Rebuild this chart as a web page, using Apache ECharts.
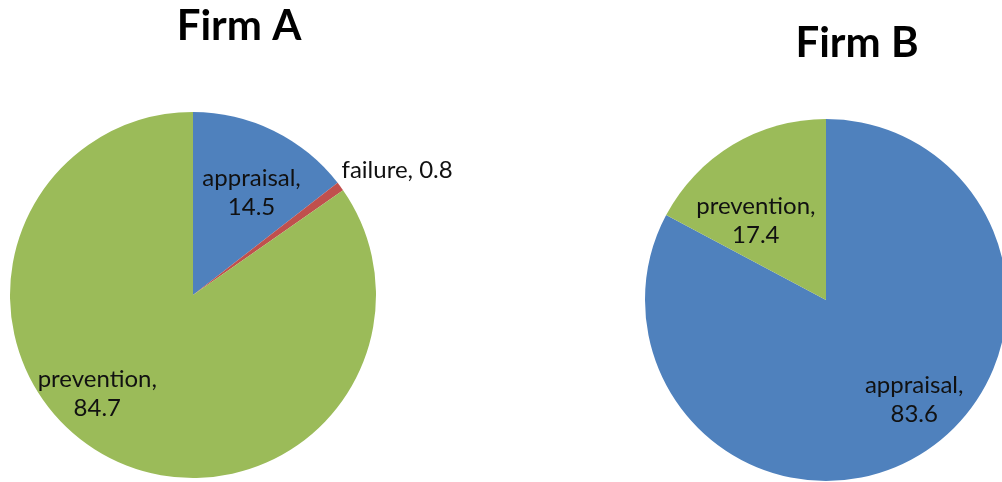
<!DOCTYPE html>
<html>
<head>
<meta charset="utf-8">
<script src="https://cdn.jsdelivr.net/npm/echarts@6/dist/echarts.min.js"></script>
<style>
  html, body { margin: 0; padding: 0; background: #fff; }
  #chart { width: 1002px; height: 482px; }
</style>
</head>
<body>
<div id="chart"></div>
<script>
// Cost of quality breakdown for two firms
const firmANames = ['appraisal', 'failure', 'prevention'];
const firmAValues = [14.5, 0.8, 84.7];
const firmBNames = ['appraisal', 'prevention'];
const firmBValues = [83.6, 17.4];

const colorMap = {
    appraisal: '#4F81BD',
    failure: '#C0504D',
    prevention: '#9BBB59'
};

// label nudges so they sit where Excel put them
const labelShiftA = [[17, -17], [128, -69], [-52, 15]];
const labelShiftB = [[40, 20], [-22, 1]];

const fontFamily = 'Lato, "Open Sans", sans-serif';

function buildData(names, values) {
    return names.map((name, i) => ({
        name: name,
        value: values[i],
        itemStyle: { color: colorMap[name] }
    }));
}

function labelText(params) {
    if (params.name === 'failure') {
        return params.name + ', ' + params.value;
    }
    return params.name + ',\n' + params.value;
}

function makePie(name, center, radius, data, shifts) {
    return {
        type: 'pie',
        name: name,
        center: center,
        radius: radius,
        data: data,
        startAngle: 90,
        clockwise: true,
        silent: true,
        avoidLabelOverlap: false,
        itemStyle: { borderWidth: 0 },
        label: {
            show: true,
            position: 'inside',
            formatter: labelText,
            color: '#111',
            fontFamily: fontFamily,
            fontSize: 24,
            lineHeight: 29,
            overflow: 'none'
        },
        labelLine: { show: false },
        emphasis: { disabled: true },
        labelLayout: function (params) {
            const shift = shifts[params.dataIndex];
            return { dx: shift[0], dy: shift[1], hideOverlap: false };
        }
    };
}

const chart = echarts.init(document.getElementById('chart'));

chart.setOption({
    animation: false,
    title: [
        {
            text: 'Firm A',
            left: 234,
            top: 0,
            textAlign: 'center',
            textStyle: { fontFamily: fontFamily, fontWeight: 'bold', fontSize: 42, color: '#000' }
        },
        {
            text: 'Firm B',
            left: 852,
            top: 17,
            textAlign: 'center',
            textStyle: { fontFamily: fontFamily, fontWeight: 'bold', fontSize: 42, color: '#000' }
        }
    ],
    series: [
        makePie('Firm A', [193, 295], 183, buildData(firmANames, firmAValues), labelShiftA),
        makePie('Firm B', [826, 300], 181, buildData(firmBNames, firmBValues), labelShiftB)
    ]
});

window.addEventListener('resize', () => chart.resize());
</script>
</body>
</html>
